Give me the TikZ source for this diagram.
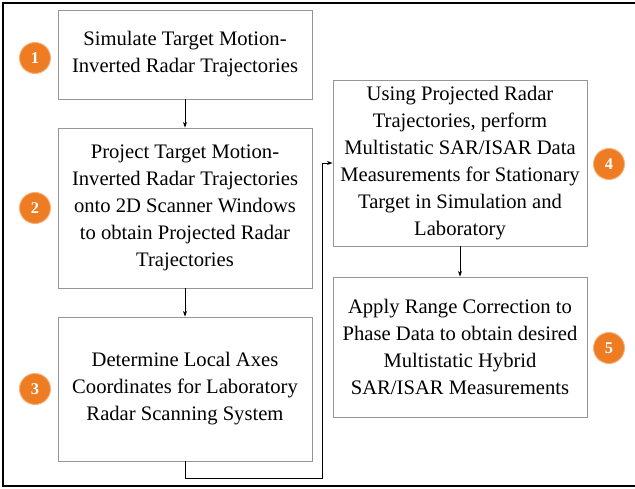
\documentclass[tikz,border=0pt]{standalone}
\usepackage{fontspec}
\setmainfont{Liberation Serif}
\usetikzlibrary{arrows.meta}
\definecolor{stepor}{RGB}{238,124,34}
\definecolor{boxgray}{RGB}{150,150,150}
\tikzset{
  stepbox/.style={draw=boxgray, line width=0.6pt, align=center,
    minimum width=7.62cm, inner sep=0pt,
    font=\fontsize{17.6}{23}\selectfont},
  stepnum/.style={circle, fill=stepor, draw=stepor!60, line width=0.8pt,
    minimum size=0.93cm, inner sep=0pt, text=white,
    font=\fontsize{14}{14}\selectfont\bfseries},
  arr/.style={-{Stealth[length=5pt,width=3.5pt]}, line width=0.7pt}
}
\begin{document}
\begin{tikzpicture}[x=0.03cm, y=-0.03cm]
      \useasboundingbox (0,0) rectangle (635,489);
      \draw[line width=1.6pt] (635,3) -- (3,3) -- (3,486) -- (635,486);
      %
      \node[stepbox, minimum height=2.67cm] (b1) at (185,54.5)
        {Simulate Target Motion-\\Inverted Radar Trajectories};
      \node[stepbox, minimum height=4.8cm] (b2) at (185,208)
        {Project Target Motion-\\Inverted Radar Trajectories\\onto 2D Scanner Windows\\to obtain Projected Radar\\Trajectories};
      \node[stepbox, minimum height=4.32cm] (b3) at (185,389)
        {Determine Local Axes\\Coordinates for Laboratory\\Radar Scanning System};
      \node[stepbox, minimum height=4.98cm] (b4) at (460,163)
        {Using Projected Radar\\Trajectories, perform\\Multistatic SAR/ISAR Data\\Measurements for Stationary\\Target in Simulation and\\Laboratory};
      \node[stepbox, minimum height=4.2cm] (b5) at (460,347)
        {Apply Range Correction to\\Phase Data to obtain desired\\Multistatic Hybrid\\SAR/ISAR Measurements};
      %
      \node[stepnum] (n1) at (35,58) {1};
      \node[stepnum] (n2) at (35,208) {2};
      \node[stepnum] (n3) at (35,389) {3};
      \node[stepnum] (n4) at (609,164) {4};
      \node[stepnum] (n5) at (609,348) {5};
      %
      \coordinate (turn) at (322,478);
      \draw[arr] (b1) -- (b2);
      \draw[arr] (b2) -- (b3);
      \draw[arr] (b3.south) |- (turn) |- (b4.west);
      \draw[arr] (b4) -- (b5);
      %
    \end{tikzpicture}
\end{document}
